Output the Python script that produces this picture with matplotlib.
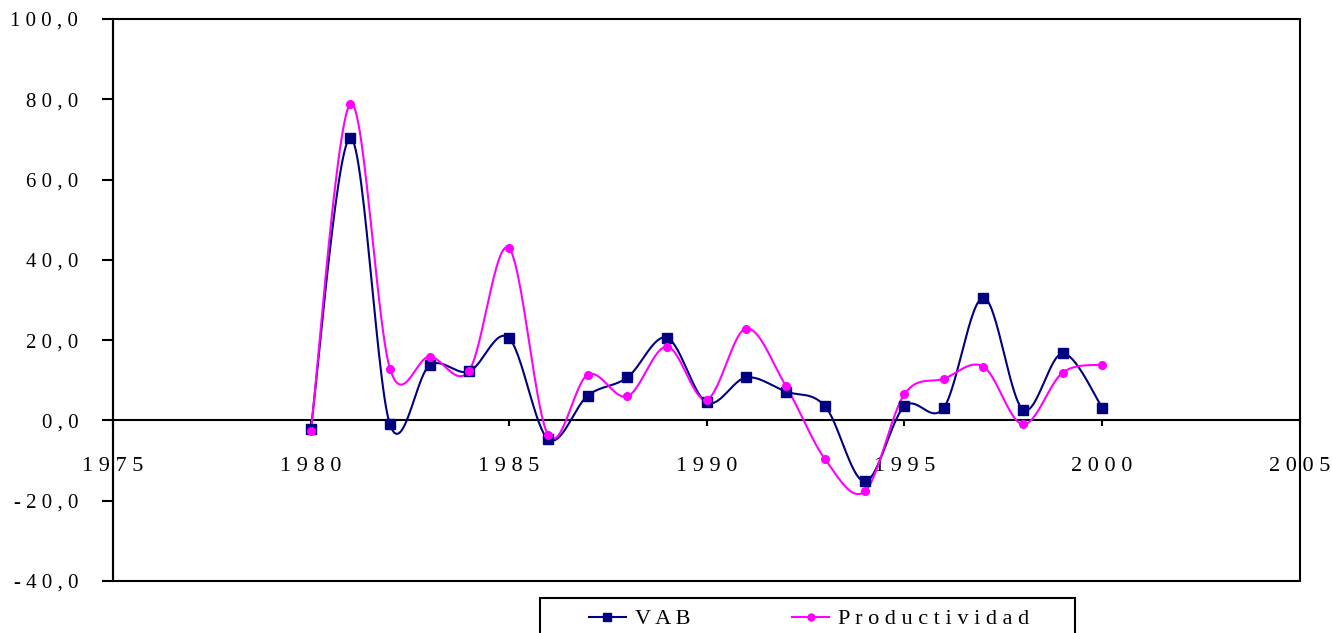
import numpy as np
import matplotlib
matplotlib.use("Agg")
import matplotlib.pyplot as plt
from matplotlib.patches import Rectangle

years = list(range(1980, 2001))
vab = [-2.2, 70.4, -1.0, 13.7, 12.2, 20.6, -4.7, 6.2, 10.7, 20.6, 4.5,
       10.7, 7.2, 3.5, -15.2, 3.5, 3.2, 30.6, 2.7, 16.7, 3.2]
productividad = [-2.7, 78.9, 12.9, 15.9, 12.4, 43.0, -3.7, 11.4, 6.0, 18.4, 5.2,
                 22.9, 8.7, -9.7, -17.7, 6.5, 10.4, 13.4, -1.0, 11.9, 13.9]
x_ticks = [1975, 1980, 1985, 1990, 1995, 2000, 2005]
y_ticks = [-40, -20, 0, 20, 40, 60, 80, 100]


def spaced(s):
    return " ".join(s)


def smooth(xs, ys, n=30):
    # excel-style bezier smoothing through the points
    p = np.column_stack([xs, ys]).astype(float)
    out = [p[0]]
    for i in range(len(p) - 1):
        p0 = p[i - 1] if i > 0 else p[i]
        p1, p2 = p[i], p[i + 1]
        p3 = p[i + 2] if i + 2 < len(p) else p[i + 1]
        c1 = p1 + (p2 - p0) / 6
        c2 = p2 - (p3 - p1) / 6
        t = np.linspace(0, 1, n)[1:, None]
        seg = ((1 - t) ** 3) * p1 + 3 * ((1 - t) ** 2) * t * c1 + 3 * (1 - t) * t ** 2 * c2 + t ** 3 * p2
        out.extend(seg)
    out = np.array(out)
    return out[:, 0], out[:, 1]


plt.rcParams["font.family"] = ["Liberation Serif", "DejaVu Serif"]
plt.rcParams["font.size"] = 15

W, H = 1332, 633
fig = plt.figure(figsize=(W / 100, H / 100), dpi=100)
ax = fig.add_axes([113 / W, 1 - 581 / H, (1300 - 113) / W, (581 - 19) / H])

navy = "#000080"
magenta = "#FF00FF"

sx, sy = smooth(years, vab)
ax.plot(sx, sy, color=navy, lw=1.5, zorder=3)
ax.plot(years, vab, ls="none", marker="s", ms=7, color=navy, zorder=4)
px, py = smooth(years, productividad)
ax.plot(px, py, color=magenta, lw=1.5, zorder=3)
ax.plot(years, productividad, ls="none", marker="o", ms=5.5, color=magenta, zorder=4)

# legend proxies
ax.plot([], [], color=navy, lw=1.5, marker="s", ms=6, label=spaced("VAB"))
ax.plot([], [], color=magenta, lw=1.5, marker="o", ms=5, label=spaced("Productividad"))

ax.set_xlim(1975, 2005)
ax.set_ylim(-40, 100)

ax.spines["bottom"].set_position(("data", 0))
for side in ("top", "right"):
    ax.spines[side].set_visible(False)
for sp in ax.spines.values():
    sp.set_linewidth(1.5)
ax.add_patch(Rectangle((0, 0), 1, 1, transform=ax.transAxes, fill=False,
                       lw=1.5, edgecolor="black", clip_on=False, zorder=5))

ax.set_xticks(x_ticks, [spaced(str(v)) for v in x_ticks])
ax.set_yticks(y_ticks, [spaced(f"{v:.1f}".replace(".", ",")) for v in y_ticks])
ax.tick_params(axis="x", direction="out", length=4, width=1.5, pad=22, labelsize=16)
ax.tick_params(axis="y", direction="out", length=8, width=1.5, pad=17)

leg = fig.legend(loc="center left", bbox_to_anchor=(589 / W, 1 - 619 / H),
                 ncol=2, frameon=False, borderpad=0, borderaxespad=0, fontsize=16,
                 handlelength=1.65, columnspacing=4.6, handletextpad=0.4)
fig.patches.append(Rectangle((540 / W, -0.05), (1075 - 540) / W, 0.05 + (1 - 598 / H),
                             transform=fig.transFigure, fill=False, lw=1.5,
                             edgecolor="black"))

fig.savefig("out.png", dpi=100)
